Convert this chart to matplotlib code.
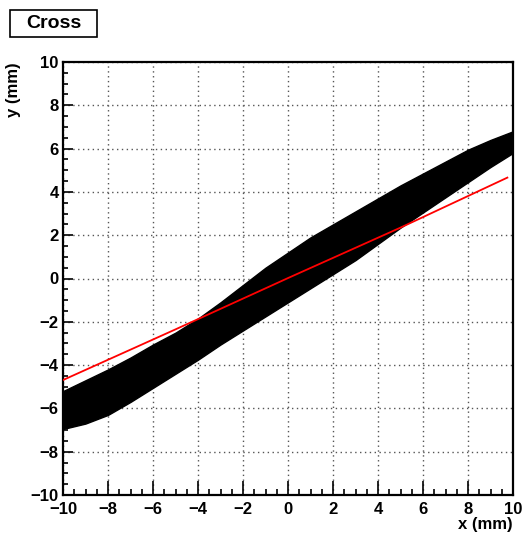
import numpy as np
import matplotlib.pyplot as plt
from matplotlib.ticker import MultipleLocator
from matplotlib.patches import Rectangle

plt.rcParams['font.family'] = ['Liberation Sans', 'DejaVu Sans']
plt.rcParams['font.weight'] = 'bold'

# outline of the dense scatter band
band_x = [-10, -9, -8, -7, -6, -5, -4, -3, -2, -1, 0, 1, 2, 3, 4, 5, 6, 7, 8, 9, 10]
band_upper = [-5.2, -4.7, -4.2, -3.65, -3.05, -2.5, -1.85, -1.1, -0.3, 0.5, 1.2,
              1.9, 2.5, 3.1, 3.7, 4.3, 4.85, 5.4, 5.95, 6.4, 6.8]
band_lower = [-6.95, -6.7, -6.3, -5.7, -5.05, -4.4, -3.75, -3.05, -2.4, -1.75, -1.1,
              -0.45, 0.2, 0.85, 1.6, 2.35, 3.05, 3.75, 4.45, 5.15, 5.8]

# red profile line
prof_x = [-10, -5, 0, 5, 9.75]
prof_y = [-4.69, -2.35, 0.02, 2.35, 4.66]

W, H = 526, 539
fig = plt.figure(figsize=(W / 100, H / 100), dpi=100)
ax = fig.add_axes([63 / W, 44 / H, 450 / W, 433 / H])

ax.fill_between(band_x, band_lower, band_upper, facecolor='black', edgecolor='black', lw=1.0, zorder=2)
ax.plot(prof_x, prof_y, color='red', lw=1.3, zorder=3)

ax.set_xlim(-10, 10)
ax.set_ylim(-10, 10)
ax.xaxis.set_major_locator(MultipleLocator(2))
ax.xaxis.set_minor_locator(MultipleLocator(0.5))
ax.yaxis.set_major_locator(MultipleLocator(2))
ax.yaxis.set_minor_locator(MultipleLocator(0.5))
ax.grid(True, which='major', linestyle=(0, (1, 2.5)), color='#555555', lw=1.0, zorder=1)

ax.tick_params(axis='x', which='major', direction='in', length=10, width=1.2, labelsize=12, pad=5)
ax.tick_params(axis='x', which='minor', direction='in', length=4.5, width=1.2)
ax.tick_params(axis='y', which='major', direction='in', length=7.5, width=1.2, labelsize=12, pad=3)
ax.tick_params(axis='y', which='minor', direction='in', length=3.6, width=1.2)
for lab in ax.get_xticklabels() + ax.get_yticklabels():
    lab.set_fontweight('bold')
for sp in ax.spines.values():
    sp.set_linewidth(1.6)

ax.set_xlabel('x (mm)', fontsize=12, fontweight='bold', loc='right', labelpad=0)
ax.set_ylabel('y (mm)', fontsize=12, fontweight='bold', loc='top', labelpad=7)

# title box
fig.patches.append(Rectangle((10 / W, 1 - 37 / H), 87 / W, 27 / H, transform=fig.transFigure,
                             facecolor='white', edgecolor='black', lw=1.2))
fig.text(53.5 / W, 1 - 23.5 / H, 'Cross', fontsize=14, fontweight='bold', va='center', ha='center')

fig.savefig('out.png', dpi=100)
